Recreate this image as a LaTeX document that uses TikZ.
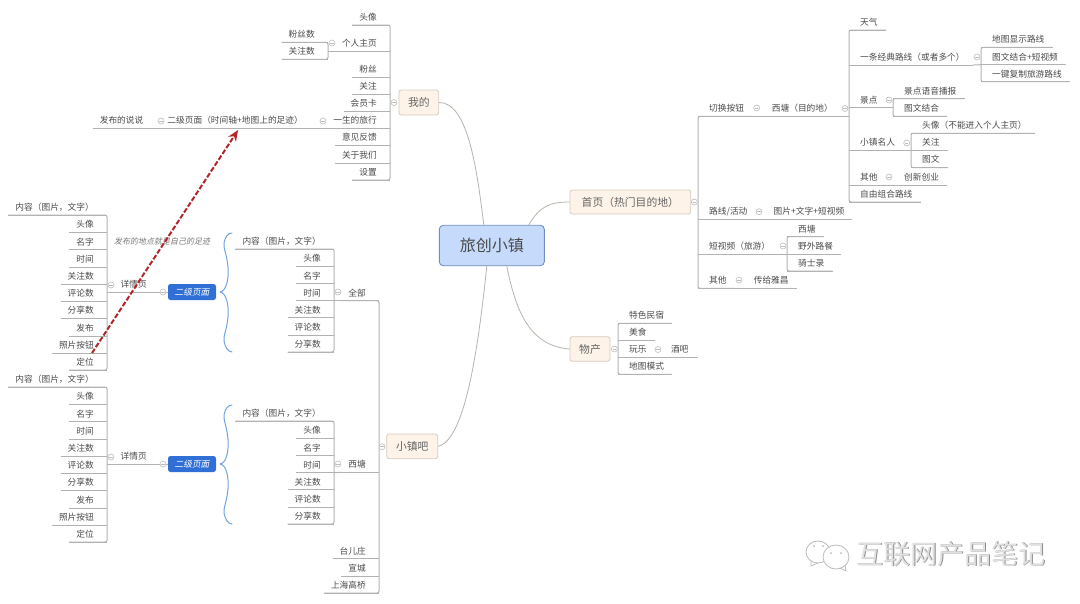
\documentclass[tikz,border=0pt]{standalone}
\usepackage{fontspec}
\setmainfont{Noto Sans CJK SC}[AutoFakeSlant=0.2]
\usepackage{tikz}
\usetikzlibrary{arrows.meta}
\definecolor{inkgray}{HTML}{4A4A4A}
\definecolor{twiggray}{HTML}{B2B2B2}
\definecolor{curvegray}{HTML}{B8B3AB}
\definecolor{foldgray}{HTML}{BCBCBC}
\definecolor{hubfill}{HTML}{C6DBFB}
\definecolor{hubline}{HTML}{6F8FBF}
\definecolor{topicfill}{HTML}{FDF3E8}
\definecolor{topicline}{HTML}{D6CBBC}
\definecolor{subblue}{HTML}{2F6FD6}
\definecolor{bracecol}{HTML}{6FA3DC}
\definecolor{arrowred}{HTML}{B3262A}

\begin{document}
\begin{tikzpicture}[x=1pt,y=-1pt,
  twig/.style={draw=twiggray, line width=1pt},
  trunk/.style={draw=twiggray, line width=1pt, rounded corners=2pt},
  curve/.style={draw=curvegray, line width=0.8pt},
  basetext/.style={font=\fontsize{8.7}{10}\selectfont, text=inkgray, inner ysep=2.5pt, text height=8pt, text depth=2pt,
    append after command={(\tikzlastnode.south west) edge[twig] (\tikzlastnode.south east)}},
  leafl/.style={basetext, anchor=south east, inner xsep=7pt, execute at end node={\hspace*{6pt}}},
  leafr/.style={basetext, anchor=south west, inner xsep=8pt, execute at begin node={\hspace*{3pt}}},
  fold/.style={circle, draw=foldgray, fill=white, line width=0.6pt, minimum size=6pt, inner sep=0pt,
    path picture={\draw[foldgray, line width=0.6pt] ([xshift=1.4pt]path picture bounding box.west) -- ([xshift=-1.4pt]path picture bounding box.east);}},
  topic/.style={draw=topicline, fill=topicfill, rounded corners=2.5pt, line width=0.8pt, text=inkgray!85,
    font=\fontsize{10.8}{13}\selectfont, inner sep=0pt},
  subpage/.style={fill=subblue, rounded corners=2.5pt, text=white, minimum width=48pt, minimum height=16pt, inner sep=0pt,
    font=\fontsize{8.7}{10}\selectfont\itshape},
  brace/.style={draw=bracecol, line width=1pt, line cap=round}]
\useasboundingbox (0,0) rectangle (1080,603);

% Centre and main topics
\node[draw=hubline, fill=hubfill, rounded corners=4pt, line width=0.9pt, text=inkgray, font=\fontsize{16}{18}\selectfont,
  minimum width=105pt, minimum height=40.5pt, inner sep=0pt] (hub) at (491.8,245.5) {旅创小镇};
\node[topic, minimum width=39.7pt, minimum height=25pt] (wode) at (418.8,102.5) {我的};
\node[topic, minimum width=120.7pt, minimum height=24pt] (shouye) at (630.3,202) {首页（热门目的地）};
\node[topic, minimum width=40pt, minimum height=24.6pt] (wuchan) at (590,349) {物产};
\node[topic, minimum width=51pt, minimum height=24.7pt] (xiaozhen) at (412.2,446.3) {小镇吧};

\draw[curve] (wode.east) .. controls (468,102) and (477,170) .. ([xshift=-8pt]hub.north);
\draw[curve] (shouye.west) .. controls (550,202) and (540,206) .. ([xshift=-16pt]hub.north east);
\draw[curve] (wuchan.west) .. controls (530,346) and (516,312) .. ([xshift=15pt]hub.south);
\draw[curve] (xiaozhen.east) .. controls (465,440) and (478,350) .. ([xshift=-5pt]hub.south);

% Wode branch
\node[leafl] (touxiangW) at (390,25) {头像};
\node[leafl] (zhuye) at (390,51) {个人主页};
\node[leafl] (fensi) at (390,77) {粉丝};
\node[leafl] (guanzhuW) at (390,94) {关注};
\node[leafl] (huiyuan) at (390,111) {会员卡};
\node[leafl] (shengya) at (390,128) {一生的旅行};
\node[leafl] (yijian) at (390,145) {意见反馈};
\node[leafl] (guanyu) at (390,163) {关于我们};
\node[leafl] (shezhi) at (390,180) {设置};
\draw[trunk] (touxiangW.south west) -- (touxiangW.south east) -- (shezhi.south east) -- (shezhi.south west);
\node[fold] (foldWode) at (394,102.5) {};

\node[leafl] (fensishu) at (328,42.3) {粉丝数};
\node[leafl] (guanzhushu) at (328,59.3) {关注数};
\draw[trunk] (fensishu.south west) -- (fensishu.south east) -- (guanzhushu.south east) -- (guanzhushu.south west);
\draw[twig] (zhuye.south west) -- (zhuye.south west -| fensishu.south east);
\node[fold] (foldZhuye) at (332,43) {};

\node[leafl] (erjiye) at (316,128) {二级页面（时间轴+地图上的足迹）};
\node[leafl] (shuoshuo) at (156.5,128) {发布的说说};
\draw[twig] (shengya.south west) -- (erjiye.south east);
\draw[twig] (erjiye.south west) -- (shuoshuo.south east);
\node[fold] (foldShengya) at (323,121) {};
\node[fold] (foldErji) at (161,121) {};

% Xiaozhen branch
\node[leafl] (quanbu) at (379,300.7) {全部};
\node[leafl] (xitangL) at (379,472.3) {西塘};
\node[leafl] (taierzhuang) at (379,558.7) {台儿庄};
\node[leafl] (xuancheng) at (379,576) {宣城};
\node[leafl] (gaoqiao) at (379,593) {上海高桥};
\draw[trunk] (quanbu.south west) -- (quanbu.south east) -- (gaoqiao.south east) -- (gaoqiao.south west);
\node[fold] (foldXiaozhen) at (382,446.7) {};

% Quanbu list
\node[leafl] (neirongC) at (334,249) {内容（图片，文字）};
\node[leafl] (touxiangC) at (334,266) {头像};
\node[leafl] (mingziC) at (334,283.7) {名字};
\node[leafl] (shijianC) at (334,300.7) {时间};
\node[leafl] (guanzhuC) at (334,317.7) {关注数};
\node[leafl] (pinglunC) at (334,335) {评论数};
\node[leafl] (fenxiangC) at (334,352) {分享数};
\draw[trunk] (neirongC.south west) -- (neirongC.south east) -- (fenxiangC.south east) -- (fenxiangC.south west);
\draw[twig] (shijianC.south east) -- (quanbu.south west);
\node[fold] (foldQuanbu) at (338,292) {};

% Xitang list
\node[leafl] (neirongD) at (334,421) {内容（图片，文字）};
\node[leafl] (touxiangD) at (334,438) {头像};
\node[leafl] (mingziD) at (334,455.7) {名字};
\node[leafl] (shijianD) at (334,472.7) {时间};
\node[leafl] (guanzhuD) at (334,489.7) {关注数};
\node[leafl] (pinglunD) at (334,507) {评论数};
\node[leafl] (fenxiangD) at (334,524) {分享数};
\draw[trunk] (neirongD.south west) -- (neirongD.south east) -- (fenxiangD.south east) -- (fenxiangD.south west);
\draw[twig] (shijianD.south east) -- (xitangL.south west);
\node[fold] (foldXitangL) at (338,464) {};

% Secondary page tags and braces
\node[subpage] (subA) at (192,292) {二级页面};
\node[subpage] (subB) at (192,464) {二级页面};
\coordinate (braceTopA) at (232,233);
\coordinate (braceEndA) at (232,352);
\coordinate (braceTopB) at (232,405);
\coordinate (braceEndB) at (232,524);
\draw[brace] ([xshift=4pt]subA.east) .. controls (226,291) and (229,280) .. (228,267) .. controls (227,255) and (223,247) .. (224,243) .. controls (225,237) and (228,233) .. (braceTopA);
\draw[brace] ([xshift=4pt]subA.east) .. controls (226,293) and (229,304) .. (228,317) .. controls (227,329) and (223,337) .. (224,341) .. controls (225,347) and (228,352) .. (braceEndA);
\draw[brace] ([xshift=4pt]subB.east) .. controls (226,463) and (229,452) .. (228,439) .. controls (227,427) and (223,419) .. (224,415) .. controls (225,409) and (228,405) .. (braceTopB);
\draw[brace] ([xshift=4pt]subB.east) .. controls (226,465) and (229,476) .. (228,489) .. controls (227,501) and (223,509) .. (224,513) .. controls (225,519) and (228,524) .. (braceEndB);

% Detail page, upper
\node[leafl] (xiangqingA) at (160,292) {详情页};
\node[leafl] (neirongA) at (107,215) {内容（图片，文字）};
\node[leafl] (touxiangA) at (107,232) {头像};
\node[leafl] (mingziA) at (107,249.7) {名字};
\node[leafl] (shijianA) at (107,267) {时间};
\node[leafl] (guanzhuA) at (107,284) {关注数};
\node[leafl] (pinglunA) at (107,301) {评论数};
\node[leafl] (fenxiangA) at (107,318) {分享数};
\node[leafl] (fabuA) at (107,336) {发布};
\node[leafl] (zhaopianA) at (107,353) {照片按钮};
\node[leafl] (dingweiA) at (107,370) {定位};
\draw[trunk] (neirongA.south west) -- (neirongA.south east) -- (dingweiA.south east) -- (dingweiA.south west);
\draw[twig] (xiangqingA.south west) -- (xiangqingA.south west -| neirongA.south east);
\draw[twig] (xiangqingA.south east) -- (subA.west);
\node[fold] (foldXqA) at (111,285) {};
\node[fold] (foldSubA) at (163,292) {};

% Detail page, lower
\node[leafl] (xiangqingB) at (160,464) {详情页};
\node[leafl] (neirongB) at (107,387) {内容（图片，文字）};
\node[leafl] (touxiangB) at (107,404) {头像};
\node[leafl] (mingziB) at (107,421.7) {名字};
\node[leafl] (shijianB) at (107,439) {时间};
\node[leafl] (guanzhuB) at (107,456) {关注数};
\node[leafl] (pinglunB) at (107,473) {评论数};
\node[leafl] (fenxiangB) at (107,490) {分享数};
\node[leafl] (fabuB) at (107,508) {发布};
\node[leafl] (zhaopianB) at (107,525) {照片按钮};
\node[leafl] (dingweiB) at (107,542) {定位};
\draw[trunk] (neirongB.south west) -- (neirongB.south east) -- (dingweiB.south east) -- (dingweiB.south west);
\draw[twig] (xiangqingB.south west) -- (xiangqingB.south west -| neirongB.south east);
\draw[twig] (xiangqingB.south east) -- (subB.west);
\node[fold] (foldXqB) at (111,457) {};
\node[fold] (foldSubB) at (163,464) {};

% Note and red arrow
\node[font=\fontsize{8}{10}\selectfont\itshape, text=inkgray!75] (zuji) at (162,241) {发布的地点就是自己的足迹};
\draw[arrowred, line width=2pt, dash pattern=on 5pt off 2pt, -{Stealth[length=11pt,width=9pt]}] ([xshift=-15pt]zhaopianA.south east) -- ([yshift=-2pt]erjiye.south);

% Shouye branch
\node[leafr] (qiehuan) at (698,116.3) {切换按钮};
\node[leafr] (luxianH) at (698,219) {路线/活动};
\node[leafr] (duanshipin) at (698,254) {短视频（旅游）};
\node[leafr] (qitaH) at (698,288.3) {其他};
\draw[trunk] (qiehuan.south east) -- (qiehuan.south west) -- (qitaH.south west) -- (qitaH.south east);
\node[fold] (foldShouye) at (694.3,202) {};

\node[leafr] (xitangM) at (760.7,116.3) {西塘（目的地）};
\draw[twig] (qiehuan.south east) -- (xitangM.south west);
\node[fold] (foldQiehuan) at (756.7,108) {};
\node[leafr] (tupian) at (762.5,219) {图片+文字+短视频};
\draw[twig] (luxianH.south east) -- (tupian.south west);
\node[fold] (foldLuxian) at (759,211.7) {};
\node[leafr] (chuangei) at (742.6,288.3) {传给雅昌};
\draw[twig] (qitaH.south east) -- (chuangei.south west);
\node[fold] (foldQitaH) at (739,280) {};

\node[leafr] (xitangS) at (787,236.7) {西塘};
\node[leafr] (yewai) at (787,254) {野外路餐};
\node[leafr] (qishi) at (787,271) {骑士录};
\draw[trunk] (xitangS.south east) -- (xitangS.south west) -- (qishi.south west) -- (qishi.south east);
\draw[twig] (duanshipin.south east) -- (yewai.south west);
\node[fold] (foldDuan) at (783,246) {};

% Xitang destination
\node[leafr] (tianqi) at (849,30) {天气};
\node[leafr] (jingdian) at (849,65) {一条经典路线（或者多个）};
\node[leafr] (jingqu) at (849,107.7) {景点};
\node[leafr] (mingren) at (849,150.3) {小镇名人};
\node[leafr] (qitaJ) at (849,185) {其他};
\node[leafr] (ziyou) at (849,202) {自由组合路线};
\draw[trunk] (tianqi.south east) -- (tianqi.south west) -- (ziyou.south west) -- (ziyou.south east);
\draw[twig] (xitangM.south east) -- (xitangM.south east -| tianqi.south west);
\node[fold] (foldXitangM) at (845,108.5) {};

\node[leafr] (dituxian) at (981,47.3) {地图显示路线};
\node[leafr] (tuwenA) at (981,64.7) {图文结合+短视频};
\node[leafr] (fuzhi) at (981,81.7) {一键复制旅游路线};
\draw[trunk] (dituxian.south east) -- (dituxian.south west) -- (fuzhi.south west) -- (fuzhi.south east);
\draw[twig] (jingdian.south east) -- (tuwenA.south west);
\node[fold] (foldJingdian) at (977,57) {};

\node[leafr] (yuyin) at (893,98.7) {景点语音播报};
\node[leafr] (tuwenB) at (893,116.3) {图文结合};
\draw[trunk] (yuyin.south east) -- (yuyin.south west) -- (tuwenB.south west) -- (tuwenB.south east);
\draw[twig] (jingqu.south east) -- (jingqu.south east -| yuyin.south west);
\node[fold] (foldJingqu) at (889,100) {};

\node[leafr] (buneng) at (911,133.3) {头像（不能进入个人主页）};
\node[leafr] (guanzhuM) at (911,150.3) {关注};
\node[leafr] (tuwenC) at (911,167.5) {图文};
\draw[trunk] (buneng.south east) -- (buneng.south west) -- (tuwenC.south west) -- (tuwenC.south east);
\draw[twig] (mingren.south east) -- (guanzhuM.south west);
\node[fold] (foldMingren) at (906.7,143) {};

\node[leafr] (chuangxin) at (893,185) {创新创业};
\draw[twig] (qitaJ.south east) -- (chuangxin.south west);
\node[fold] (foldQitaJ) at (889,177) {};

% Wuchan branch
\node[leafr] (minsu) at (618,323.3) {特色民宿};
\node[leafr] (meishi) at (618,340.3) {美食};
\node[leafr] (wanle) at (618,357.3) {玩乐};
\node[leafr] (ditu) at (618,374.3) {地图模式};
\draw[trunk] (minsu.south east) -- (minsu.south west) -- (ditu.south west) -- (ditu.south east);
\node[fold] (foldWuchan) at (614.3,349) {};
\node[leafr, minimum width=40pt] (jiuba) at (658,357.3) {酒吧};
\draw[twig] (wanle.south east) -- (jiuba.south west);
\node[fold] (foldWanle) at (658,349.5) {};

% Watermark
\draw[foldgray, line width=0.8pt, fill=white] (818,552) ellipse (12 and 11);
\draw[foldgray, line width=0.8pt] (811,561) -- (811,566) -- (818,563);
\fill[foldgray] (814,546) circle (1) (823,546) circle (1);
\draw[foldgray, line width=0.8pt, fill=white] (836,557) ellipse (13 and 12);
\draw[foldgray, line width=0.8pt] (840,568) -- (846,571) -- (845,565);
\fill[foldgray] (831,553) circle (1) (841,553) circle (1);
\node[font=\fontsize{27}{29}\selectfont, text=black!45, inner sep=0pt] (wmShade) at (952,554.4) {互联网产品笔记};
\node[font=\fontsize{27}{29}\selectfont, text=black!12, inner sep=0pt] (wmText) at (951.4,553.8) {互联网产品笔记};
\end{tikzpicture}
\end{document}
